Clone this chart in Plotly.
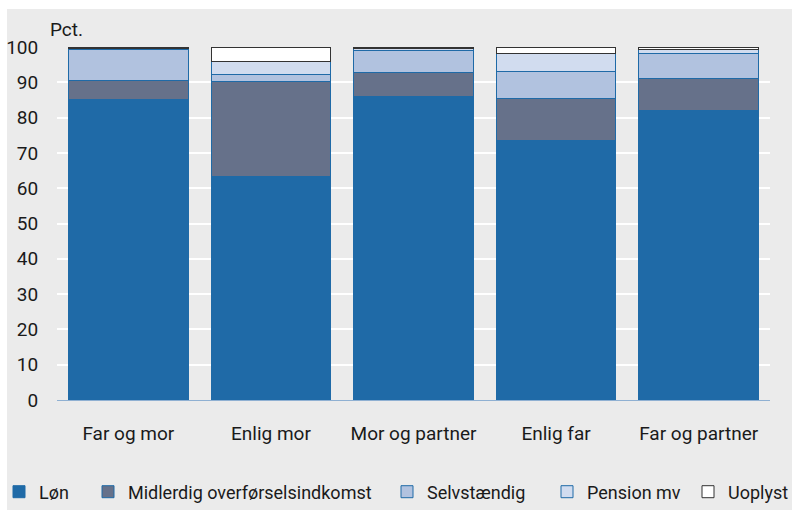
import plotly.graph_objects as go

categories = ["Far og mor", "Enlig mor", "Mor og partner", "Enlig far", "Far og partner"]
series_names = ["Løn", "Midlerdig overførselsindkomst", "Selvstændig", "Pension mv", "Uoplyst"]
lon = [85.0, 63.2, 86.1, 73.4, 81.9]
midlerdig = [5.4, 27.0, 6.6, 12.1, 9.2]
selvstaendig = [8.8, 2.0, 6.2, 7.5, 7.1]
pension = [0.4, 3.6, 0.7, 5.2, 1.1]
uoplyst = [0.4, 4.2, 0.4, 1.8, 0.7]
y_ticks = [0, 10, 20, 30, 40, 50, 60, 70, 80, 90, 100]

values = [lon, midlerdig, selvstaendig, pension, uoplyst]
fills = ["#1f6aa7", "#66718a", "#b1c2df", "#d1dcef", "#ffffff"]
lines = ["#1f6aa7", "#1f6aa7", "#1f6aa7", "#1f6aa7", "#333333"]

FONT = "Roboto, Liberation Sans Narrow, sans-serif"

fig = go.Figure()
legend_ids = ["legend", "legend2", "legend3", "legend4", "legend5"]
for name, v, fc, lc, lg in zip(series_names, values, fills, lines, legend_ids):
    fig.add_trace(go.Bar(x=categories, y=v, name=name, legend=lg,
                         marker=dict(color=fc, line=dict(color=lc, width=1))))

L, R, T, B = 57, 22, 47, 110
W, H = 792, 510
pw, ph = W - L - R, H - T - B

def px_x(x):
    return (x - L) / pw

def px_y(y):
    return (H - B - y) / ph

legend_left = [-1, 88, 387, 547, 688]
layout_legends = {}
for lg, lx in zip(legend_ids, legend_left):
    layout_legends[lg] = dict(x=px_x(lx), y=px_y(492), xanchor="left", yanchor="middle",
                              orientation="h", bgcolor="rgba(0,0,0,0)",
                              font=dict(family=FONT, size=18, color="#1a1a1a"),
                              itemclick=False, itemdoubleclick=False)

fig.update_layout(
    width=W, height=H,
    margin=dict(l=L, r=R, t=T, b=B, autoexpand=False),
    barmode="stack", bargap=0.16,
    paper_bgcolor="#ffffff", plot_bgcolor="#e1e1e1",
    font=dict(family=FONT, size=19, color="#1a1a1a"),
    showlegend=True,
    **layout_legends,
    xaxis=dict(showgrid=False, showline=True, linecolor="#8fb0d2", linewidth=1,
               ticks="outside", ticklen=16, tickcolor="rgba(0,0,0,0)",
               tickfont=dict(family=FONT, size=19, color="#1a1a1a"), fixedrange=True,
               automargin=False),
    yaxis=dict(range=[0, 100], tickvals=y_ticks, showgrid=True, gridcolor="#ffffff", gridwidth=2,
               zeroline=False, showline=False, ticks="outside", ticklen=14,
               tickcolor="rgba(0,0,0,0)", automargin=False,
               tickfont=dict(family=FONT, size=19, color="#1a1a1a"), fixedrange=True),
    shapes=[dict(type="rect", xref="paper", yref="paper", layer="below",
                 x0=px_x(7), x1=px_x(W + 5), y0=px_y(H + 5), y1=px_y(9),
                 fillcolor="#ebebeb", line=dict(width=0))],
    annotations=[dict(text="Pct.", xref="paper", yref="paper", x=px_x(48), y=px_y(30),
                      xanchor="left", yanchor="middle", showarrow=False,
                      font=dict(family=FONT, size=19, color="#1a1a1a"))],
)

fig.write_html("out.html", config={"displayModeBar": False},
               post_script="document.body.style.margin='0';")
